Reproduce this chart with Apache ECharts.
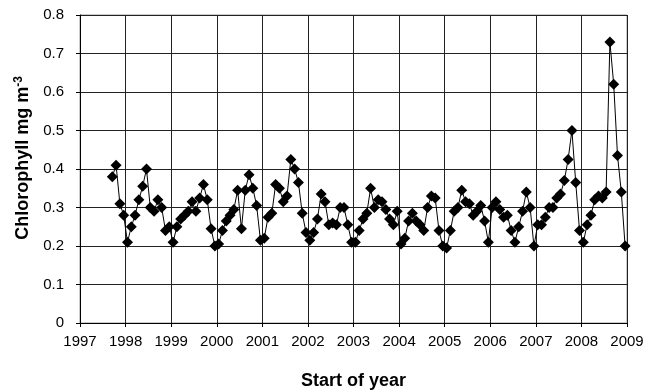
<!DOCTYPE html>
<html><head><meta charset="utf-8">
<script src="https://cdn.jsdelivr.net/npm/echarts@6/dist/echarts.min.js"></script>
<style>html,body{margin:0;padding:0;background:#fff}#c{width:647px;height:392px}</style>
</head><body><div id="c"></div>
<script>
// Monthly chlorophyll values, first month = Sep 1997, last = Dec 2008
const startYear = 1997;
const startMonth = 9; // September
const chlorophyll = [
  0.38, 0.41, 0.31, 0.28,
  0.21, 0.25, 0.28, 0.32, 0.355, 0.40, 0.30, 0.29, 0.32, 0.30, 0.24, 0.25,
  0.21, 0.25, 0.27, 0.28, 0.29, 0.315, 0.29, 0.325, 0.36, 0.32, 0.245, 0.20,
  0.205, 0.24, 0.265, 0.28, 0.295, 0.345, 0.245, 0.345, 0.385, 0.35, 0.305, 0.215,
  0.22, 0.275, 0.285, 0.36, 0.35, 0.315, 0.33, 0.425, 0.40, 0.365, 0.285, 0.235,
  0.215, 0.235, 0.27, 0.335, 0.315, 0.255, 0.26, 0.255, 0.30, 0.30, 0.255, 0.21,
  0.21, 0.24, 0.27, 0.285, 0.35, 0.30, 0.32, 0.315, 0.295, 0.27, 0.255, 0.29,
  0.205, 0.22, 0.265, 0.285, 0.265, 0.255, 0.24, 0.30, 0.33, 0.325, 0.24, 0.20,
  0.195, 0.24, 0.29, 0.30, 0.345, 0.315, 0.31, 0.28, 0.29, 0.305, 0.265, 0.21,
  0.30, 0.315, 0.295, 0.275, 0.28, 0.24, 0.21, 0.25, 0.29, 0.34, 0.30, 0.20,
  0.255, 0.255, 0.275, 0.30, 0.30, 0.325, 0.335, 0.37, 0.425, 0.50, 0.365, 0.24,
  0.21, 0.255, 0.28, 0.32, 0.33, 0.325, 0.34, 0.73, 0.62, 0.435, 0.34, 0.20
];
const xMin = 1997, xMax = 2009, xStep = 1;
const yMin = 0, yMax = 0.8, yStep = 0.1;
const xTitle = 'Start of year';
const yTitle = 'Chlorophyll mg m';
const yTitleSup = '-3';

const points = chlorophyll.map((v, i) => {
  const m = startMonth - 1 + i;
  const yr = startYear + Math.floor(m / 12);
  const mo = m % 12;
  return [yr + (mo + 0.5) / 12, v];
});

const font = '"Liberation Sans", Arial, sans-serif';
const chart = echarts.init(document.getElementById('c'));
chart.setOption({
  animation: false,
  backgroundColor: '#fff',
  grid: { left: 80, right: 20, top: 15, bottom: 69, show: true, borderColor: '#999', borderWidth: 1,
          containLabel: false, outerBoundsMode: 'none' },
  xAxis: {
    type: 'value', min: xMin, max: xMax, interval: xStep,
    name: xTitle, nameLocation: 'middle', nameGap: 49,
    nameTextStyle: { fontFamily: font, fontSize: 18, fontWeight: 'bold', color: '#000' },
    axisLine: { show: true, lineStyle: { color: '#000', width: 1 } },
    axisTick: { show: true, inside: false, length: 4, lineStyle: { color: '#000' } },
    axisLabel: { formatter: v => String(v), fontFamily: font, fontSize: 15, color: '#000', margin: 11 },
    splitLine: { show: true, lineStyle: { color: '#222', width: 1 } }
  },
  yAxis: {
    type: 'value', min: yMin, max: yMax, interval: yStep,
    name: '{a|' + yTitle + '}{s|' + yTitleSup + '}',
    nameLocation: 'middle', nameGap: 43, nameRotate: 90,
    nameTextStyle: {
      padding: [0, 0, 0, 22],
      rich: {
        a: { fontFamily: font, fontSize: 18, fontWeight: 'bold', color: '#000' },
        s: { fontFamily: font, fontSize: 12, fontWeight: 'bold', color: '#000', verticalAlign: 'top', padding: [0, 0, 9, 0] }
      }
    },
    axisLine: { show: true, lineStyle: { color: '#000', width: 1 } },
    axisTick: { show: true, inside: false, length: 4, lineStyle: { color: '#000' } },
    axisLabel: { formatter: v => (v === 0 ? '0' : v.toFixed(1)), fontFamily: font, fontSize: 15, color: '#000', margin: 16 },
    splitLine: { show: true, lineStyle: { color: '#222', width: 1 } }
  },
  series: [{
    type: 'line',
    data: points,
    symbol: 'diamond',
    symbolSize: 11,
    itemStyle: { color: '#000' },
    lineStyle: { color: '#000', width: 1 }
  }]
});
</script></body></html>
